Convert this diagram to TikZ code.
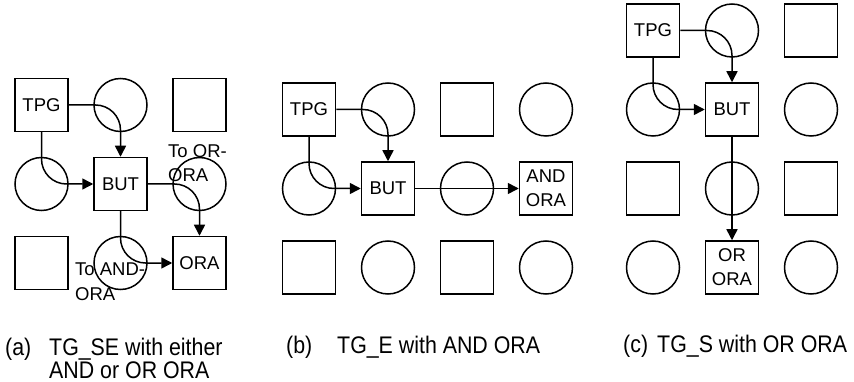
\documentclass[tikz,border=0pt]{standalone}
\usepackage{fontspec}
\setmainfont{Liberation Sans}
\newfontfamily\capfont[FakeStretch=0.89]{Liberation Sans}
\usetikzlibrary{arrows.meta}

\tikzset{
	quad/.style={draw, line width=1.5pt, minimum size=53, inner sep=0pt,
		align=center, font=\fontsize{18.5}{24}\selectfont},
	kreis/.style={draw, circle, line width=1.5pt, minimum size=53, inner sep=0pt},
	pfeil/.style={line width=1.5pt, rounded corners=25,
		-{Triangle[length=11pt,width=11pt]}},
	hinweis/.style={anchor=base west, inner sep=0pt, font=\fontsize{18.5}{24}\selectfont},
	titel/.style={anchor=base west, inner sep=0pt, font=\capfont\fontsize{24}{23.5}\selectfont}
}

\begin{document}
\begin{tikzpicture}[x=1pt, y=-1pt]
	\useasboundingbox (0,0) rectangle (854,382);

	% (a) TG_SE
	\node[quad] (tpgA) at (41.5,105) {TPG};
	\node[quad] (butA) at (120.5,184) {BUT};
	\node[quad] (oraA) at (199.5,263) {ORA};
	\foreach \n/\x/\y in {qA1/199.5/105, qA2/41.5/263}
		\node[quad] (\n) at (\x,\y) {};
	\foreach \n/\x/\y in {kA1/120.5/105, kA2/41.5/184, kA3/199.5/184, kA4/120.5/263}
		\node[kreis] (\n) at (\x,\y) {};
	\draw[pfeil] (tpgA.east) -| (butA.north);
	\draw[pfeil] (tpgA.south) |- (butA.west);
	\draw[pfeil] (butA.east) -| (oraA.north);
	\draw[pfeil] (butA.south) |- (oraA.west);
	\node[hinweis] (orA1) at (168,158) {To OR-};
	\node[hinweis] (orA2) at (168,182) {ORA};
	\node[hinweis] (andA1) at (75,276) {To AND-};
	\node[hinweis] (andA2) at (75,300) {ORA};

	% (b) TG_E
	\node[quad] (tpgB) at (309,109.5) {TPG};
	\node[quad] (butB) at (388,188.5) {BUT};
	\node[quad] (oraB) at (546,188.5) {AND\\ORA};
	\foreach \n/\x/\y in {qB1/467/109.5, qB2/309/267.5, qB3/467/267.5}
		\node[quad] (\n) at (\x,\y) {};
	\foreach \n/\x/\y in {kB1/388/109.5, kB2/546/109.5, kB3/309/188.5,
			kB4/467/188.5, kB5/388/267.5, kB6/546/267.5}
		\node[kreis] (\n) at (\x,\y) {};
	\draw[pfeil] (tpgB.east) -| (butB.north);
	\draw[pfeil] (tpgB.south) |- (butB.west);
	\draw[pfeil] (butB.east) -- (oraB.west);

	% (c) TG_S
	\node[quad] (tpgC) at (653,30.5) {TPG};
	\node[quad] (butC) at (732,109.5) {BUT};
	\node[quad] (oraC) at (732,267.5) {OR\\ORA};
	\foreach \n/\x/\y in {qC1/811/30.5, qC2/653/188.5, qC3/811/188.5}
		\node[quad] (\n) at (\x,\y) {};
	\foreach \n/\x/\y in {kC1/732/30.5, kC2/653/109.5, kC3/811/109.5,
			kC4/732/188.5, kC5/653/267.5, kC6/811/267.5}
		\node[kreis] (\n) at (\x,\y) {};
	\draw[pfeil] (tpgC.east) -| (butC.north);
	\draw[pfeil] (tpgC.south) |- (butC.west);
	\draw[pfeil] (butC.south) -- (oraC.north);

	% Unterschriften
	\node[titel] (capA) at (5,355) {(a)};
	\node[titel] (txtA1) at (49,355) {TG\_SE with either};
	\node[titel] (txtA2) at (49,378) {AND or OR ORA};
	\node[titel] (capB) at (286,353) {(b)};
	\node[titel] (txtB) at (337,353) {TG\_E with AND ORA};
	\node[titel] (capC) at (623,352) {(c)};
	\node[titel] (txtC) at (657,352) {TG\_S with OR ORA};
\end{tikzpicture}
\end{document}
